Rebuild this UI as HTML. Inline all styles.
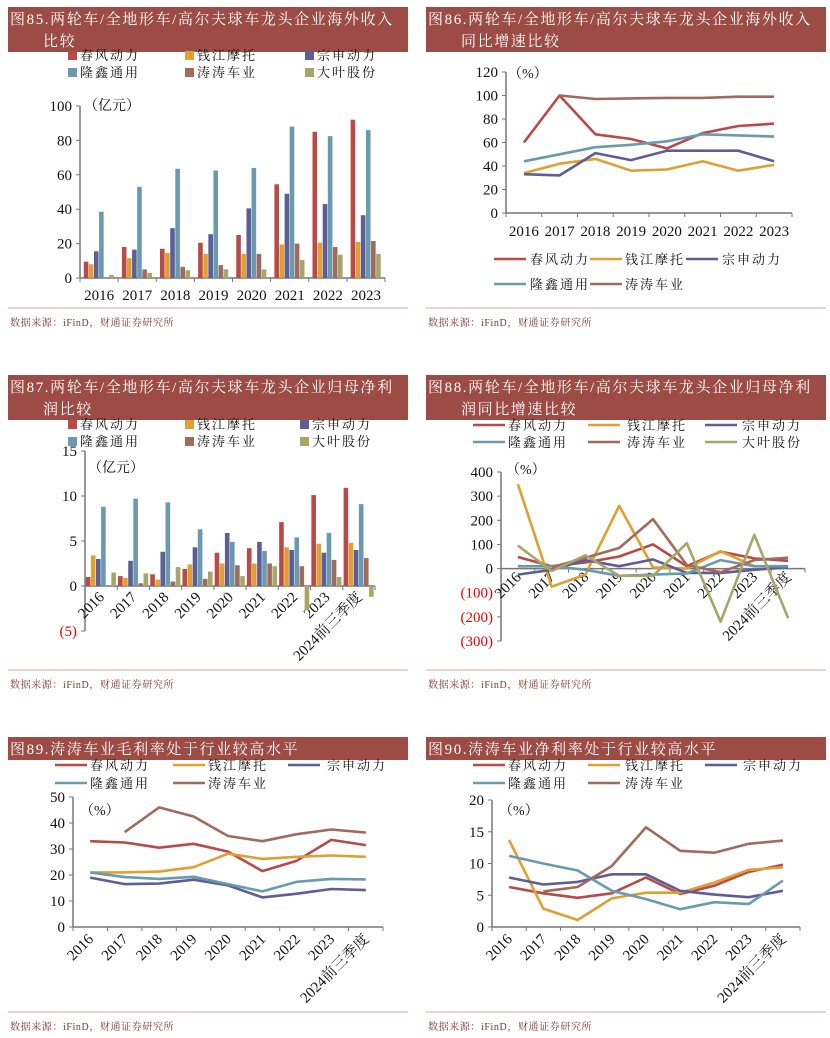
<!DOCTYPE html>
<html><head><meta charset="utf-8">
<style>
body{margin:0;background:#fff;}
svg{display:block;font-family:"Liberation Serif","Noto Serif CJK SC",serif;}
.cjk{font-family:"Liberation Serif","Noto Serif CJK SC",serif;}
</style></head>
<body>
<svg id="page" width="830" height="1038" viewBox="0 0 830 1038" xmlns="http://www.w3.org/2000/svg"></svg>
<script>
const NS="http://www.w3.org/2000/svg";
const svg=document.getElementById('page');
const COLORS=['#b84a47','#e0a030','#5d5d98','#6a9aae','#a06a5c','#a6a66a'];
const NAMES=['春风动力','钱江摩托','宗申动力','隆鑫通用','涛涛车业','大叶股份'];

// ---- data ----
const years8=['2016','2017','2018','2019','2020','2021','2022','2023'];
const years9=['2016','2017','2018','2019','2020','2021','2022','2023','2024前三季度'];
// Fig85 overseas revenue (亿元)
const f85_chunfeng=[9.5,18,17,20.5,25,54.5,85,92];
const f85_qianjiang=[8,11.5,14.5,14,14,19.5,20.5,21];
const f85_zongshen=[15.5,16.5,29,25.5,40.5,49,43,36.5];
const f85_longxin=[38.5,53,63.5,62.5,64,88,82.5,86];
const f85_taotao=[0,5,6.5,7.5,14,20,18,21.5];
const f85_daye=[1.8,3,4.5,5,5,10.5,13.5,14];
const f85_ticks=[0,20,40,60,80,100];
// Fig86 overseas share (%)
const f86_chunfeng=[60,100,67,63,55,68,74,76];
const f86_qianjiang=[34,42,46,36,37,44,36,41];
const f86_zongshen=[33,32,51,45,53,53,53,44];
const f86_longxin=[44,50,56,58,61,67,66,65];
const f86_taotao=[null,100,97,97.5,98,98,99,99];
const f86_ticks=[0,20,40,60,80,100,120];
// Fig87 net profit (亿元)
const f87_chunfeng=[1.0,1.1,1.3,1.9,3.7,4.2,7.1,10.1,10.9];
const f87_qianjiang=[3.4,0.9,0.7,2.4,2.5,2.5,4.3,4.7,4.8];
const f87_zongshen=[3.0,2.8,3.8,4.3,5.9,4.9,4.0,3.7,4.0];
const f87_longxin=[8.8,9.7,9.3,6.3,4.9,3.9,5.4,5.9,9.1];
const f87_taotao=[0,0.3,0.5,0.8,2.3,2.5,2.2,2.9,3.1];
const f87_daye=[1.5,1.4,2.1,1.6,1.1,2.2,-2.7,1.0,-1.2];
const f87_ticks=[-5,0,5,10,15];
// Fig88 net profit growth (%)
const f88_chunfeng=[48,10,25,50,100,10,70,42,32];
const f88_qianjiang=[350,-75,-25,260,5,0,72,10,8];
const f88_zongshen=[-25,-5,35,10,38,-18,-18,-5,5];
const f88_longxin=[10,10,-5,-30,-25,-20,35,10,10];
const f88_taotao=[null,5,45,85,205,15,-15,35,45];
const f88_daye=[95,-10,55,-30,-30,105,-220,140,-205];
const f88_ticks=[-300,-200,-100,0,100,200,300,400];
// Fig89 gross margin (%)
const f89_chunfeng=[33,32.5,30.5,32,29,21.5,25.5,33.5,31.5];
const f89_qianjiang=[21,21,21.3,23,28.2,26.2,27,27.5,27];
const f89_zongshen=[19,16.5,16.7,18.2,16,11.4,12.8,14.6,14.2];
const f89_longxin=[21,19.2,18.5,19.3,16.5,13.7,17.4,18.5,18.3];
const f89_taotao=[null,36.5,46,42.5,35,33,35.7,37.5,36.3];
const f89_ticks=[0,10,20,30,40,50];
// Fig90 net margin (%)
const f90_chunfeng=[6.3,5.3,4.6,5.3,7.8,5.2,6.5,8.7,9.8];
const f90_qianjiang=[13.7,2.9,1.1,4.5,5.4,5.4,7,9,9.4];
const f90_zongshen=[7.8,6.7,7.1,8.3,8.3,5.7,5.1,4.7,5.7];
const f90_longxin=[11.2,10,8.9,5.7,4.4,2.8,3.9,3.6,7.3];
const f90_taotao=[null,5.6,6.3,9.6,15.7,12,11.7,13.1,13.6];
const f90_ticks=[0,5,10,15,20];

function el(tag,attrs,parent,text){
  const e=document.createElementNS(NS,tag);
  for(const k in attrs) e.setAttribute(k,attrs[k]);
  if(text!==undefined) e.textContent=text;
  (parent||svg).appendChild(e);return e;
}
function fmt(v){return v<0?'('+(-v)+')':String(v);}

function panel(id,x,y,w,titleLines,srcY,sepY){
  const g=el('g',{});
  
  
  const h=titleLines.length*22+1;
  const bar=el('rect',{x:x,y:y,width:w,height:h,fill:'#9c4b45'},g);
  
  
  titleLines.forEach((t,i)=>{
    const tt=el('text',{x:i?x+35:x+2,y:y+17+i*22,fill:'#fff','font-size':15,'letter-spacing':1.6,class:'cjk'},g,t);
    
    
  });
  const sep=el('line',{x1:x,x2:x+w,y1:sepY,y2:sepY,stroke:'#dbb9b6','stroke-width':1.2},g);
  
  
  const s=el('text',{x:x+2,y:srcY,fill:'#7a3a2c','font-size':10,'letter-spacing':0.6,class:'cjk'},g,'数据来源：iFinD，财通证券研究所');
  
  
  return g;
}

function legend(g,items,type,rows){
  items.forEach((it,i)=>{
    const r=rows[i];
    const lg=el('g',{},g);
    
    
    if(type==='box'){
      el('rect',{x:r[0],y:r[1]-9,width:9,height:9,fill:COLORS[it]},lg);
      el('text',{x:r[0]+12,y:r[1],'font-size':13,'letter-spacing':2,class:'cjk',fill:'#111'},lg,NAMES[it]);
    }else{
      el('line',{x1:r[0],x2:r[0]+32,y1:r[1]-5,y2:r[1]-5,stroke:COLORS[it],'stroke-width':2.5},lg);
      el('text',{x:r[2],y:r[1],'font-size':13,'letter-spacing':2,class:'cjk',fill:'#111'},lg,NAMES[it]);
    }
  });
}

function axes(g,c){
  const yS=v=>c.yb-(v-c.min)/(c.max-c.min)*(c.yb-c.yt);
  const zeroY=yS(c.min<0?0:c.min);
  const ax=el('g',{},g);
  
  
  el('line',{x1:c.x0,x2:c.x0,y1:c.yt,y2:c.yb,stroke:'#777','stroke-width':1.5},ax);
  c.ticks.forEach(t=>{
    const y=yS(t);
    el('line',{x1:c.x0-4,x2:c.x0,y1:y,y2:y,stroke:'#777'},ax);
    const tl=el('text',{x:c.x0-8,y:y+5,'text-anchor':'end','font-size':15,fill:t<0?'#e00':'#111'},ax,fmt(t));
    
    
  });
  const xa=el('g',{},g);
  
  
  el('line',{x1:c.x0,x2:c.x1,y1:zeroY,y2:zeroY,stroke:'#777','stroke-width':1.5},xa);
  const n=c.cats.length,cw=(c.x1-c.x0)/n;
  for(let i=0;i<=n;i++){const x=c.x0+i*cw;el('line',{x1:x,x2:x,y1:zeroY,y2:zeroY+4,stroke:'#777'},xa);}
  const xS=i=>c.x0+cw*(i+0.5);
  c.cats.forEach((cat,i)=>{
    let t;
    if(c.rot){
      const x=xS(i)+4,y=c.labY;
      t=el('text',{x:x,y:y,'text-anchor':'end','font-size':15,transform:'rotate(-45 '+x+' '+y+')',fill:'#111'},xa,cat);
    }else{
      t=el('text',{x:xS(i),y:c.labY,'text-anchor':'middle','font-size':15,fill:'#111'},xa,cat);
    }
    
    
  });
  const u=el('text',{x:c.ux,y:c.uy,'font-size':14,class:'cjk',fill:'#111'},g,c.unit);
  
  
  return {xS,yS,cw,zeroY};
}

function bars(g,c,series){
  const s=axes(g,c);
  const bw=4.6,step=5.1,tot=step*series.length;
  series.forEach((arr,si)=>{
    arr.forEach((v,i)=>{
      if(v===null||v===0) return;
      const x=s.xS(i)-tot/2+si*step;
      const y1=s.yS(v),y0=s.zeroY;
      const r=el('rect',{x:x,y:Math.min(y0,y1),width:bw,height:Math.abs(y1-y0),fill:COLORS[si]},g);
      
      
    });
  });
}

function lines(g,c,series){
  const s=axes(g,c);
  series.forEach((arr,si)=>{
    let d='';
    arr.forEach((v,i)=>{
      if(v===null) return;
      d+=(d?'L':'M')+s.xS(i).toFixed(1)+','+s.yS(v).toFixed(1);
    });
    const p=el('path',{d:d,fill:'none',stroke:COLORS[si],'stroke-width':2.6,'stroke-linejoin':'round'},g);
    
    
  });
}

// Fig85
let g=panel('panel-fig85',8,7,400,['图85.两轮车/全地形车/高尔夫球车龙头企业海外收入','比较'],326,308);
legend(g,[0,1,2,3,4,5],'box',[[68,60],[185,60],[305,60],[68,77],[185,77],[305,77]]);
bars(g,{x0:80,x1:385,yt:106,yb:278,min:0,max:100,ticks:f85_ticks,cats:years8,labY:300,unit:'（亿元）',ux:84,uy:110},
  [f85_chunfeng,f85_qianjiang,f85_zongshen,f85_longxin,f85_taotao,f85_daye]);

// Fig86
g=panel('panel-fig86',426,7,400,['图86.两轮车/全地形车/高尔夫球车龙头企业海外收入','同比增速比较'],326,308);
lines(g,{x0:506,x1:792,yt:72,yb:213,min:0,max:120,ticks:f86_ticks,cats:years8,labY:236,unit:'（%）',ux:508,uy:78},
  [f86_chunfeng,f86_qianjiang,f86_zongshen,f86_longxin,f86_taotao]);
legend(g,[0,1,2,3,4],'line',[[494,264,530],[590,264,625],[686,264,722],[494,289,530],[590,289,625]]);

// Fig87
g=panel('panel-fig87',8,375,400,['图87.两轮车/全地形车/高尔夫球车龙头企业归母净利','润比较'],688,670);
legend(g,[0,1,2,3,4,5],'box',[[68,429],[185,429],[300,429],[68,446],[185,446],[300,446]]);
bars(g,{x0:85,x1:375,yt:451,yb:631,min:-5,max:15,ticks:f87_ticks,cats:years9,labY:598,rot:true,unit:'（亿元）',ux:88,uy:472},
  [f87_chunfeng,f87_qianjiang,f87_zongshen,f87_longxin,f87_taotao,f87_daye]);

// Fig88
g=panel('panel-fig88',426,375,400,['图88.两轮车/全地形车/高尔夫球车龙头企业归母净利','润同比增速比较'],688,670);
legend(g,[0,1,2,3,4,5],'line',[[473,430,508],[588,430,627],[705,430,742],[473,447,508],[588,447,627],[705,447,742]]);
lines(g,{x0:501,x1:805,yt:472,yb:641,min:-300,max:400,ticks:f88_ticks,cats:years9,labY:578,rot:true,unit:'（%）',ux:506,uy:474},
  [f88_chunfeng,f88_qianjiang,f88_zongshen,f88_longxin,f88_taotao,f88_daye]);

// Fig89
g=panel('panel-fig89',8,737,400,['图89.涛涛车业毛利率处于行业较高水平'],1030,1012);
legend(g,[0,1,2,3,4],'line',[[55,770,90],[173,770,208],[288,770,327],[55,788,90],[173,788,208]]);
lines(g,{x0:73,x1:383,yt:797,yb:927,min:0,max:50,ticks:f89_ticks,cats:years9,labY:940,rot:true,unit:'（%）',ux:80,uy:815},
  [f89_chunfeng,f89_qianjiang,f89_zongshen,f89_longxin,f89_taotao]);

// Fig90
g=panel('panel-fig90',426,737,400,['图90.涛涛车业净利率处于行业较高水平'],1030,1012);
legend(g,[0,1,2,3,4],'line',[[473,770,508],[588,770,625],[705,770,743],[473,788,508],[588,788,625]]);
lines(g,{x0:492,x1:800,yt:800,yb:927,min:0,max:20,ticks:f90_ticks,cats:years9,labY:940,rot:true,unit:'（%）',ux:499,uy:815},
  [f90_chunfeng,f90_qianjiang,f90_zongshen,f90_longxin,f90_taotao]);
</script>
</body></html>
